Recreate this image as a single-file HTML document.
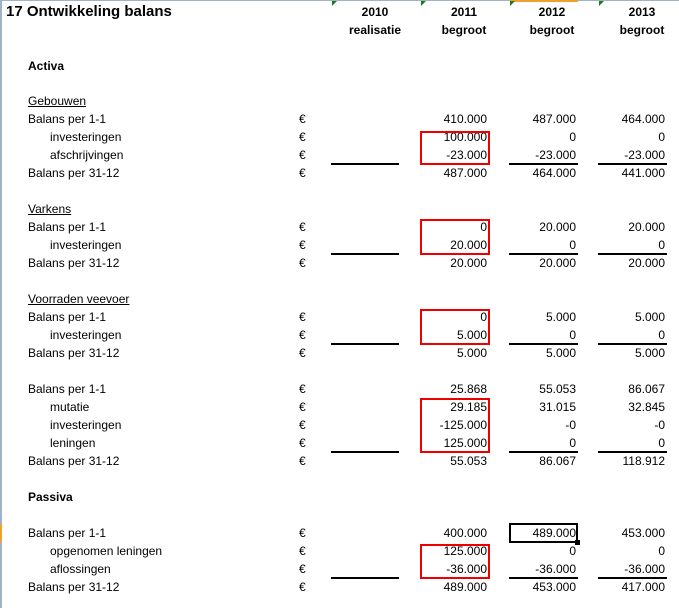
<!DOCTYPE html>
<html><head><style>
body{margin:0;width:679px;height:608px;background:#fff;position:relative;overflow:hidden;font-family:"Liberation Sans",Arial,sans-serif;font-size:12px;color:#000}
div{position:absolute;line-height:14px;white-space:nowrap}
.l{left:28px}.i{left:50px}.e{left:299px}
.c1{right:192px}.c2{right:103px}.c3{right:14px}
.b{font-weight:bold}
.h{font-weight:bold;text-align:center;width:70px}
.u{height:2px;background:#000}
.r{border:2px solid #e00;box-sizing:border-box;left:420px;width:70px}
.g{width:0;height:0;border-top:5px solid #1a7a1a;border-right:5px solid transparent;top:1px}
</style></head><body>
<div style="left:0;top:0;width:2px;height:608px;background:#9fb2c8"></div>
<div style="left:0;top:0;width:679px;height:1px;background:#9fb2c8"></div>
<div style="left:0;top:524px;width:2px;height:18px;background:#f0a030"></div>
<div style="left:510px;top:0;width:68px;height:2px;background:#f0a030"></div>
<div class="g" style="left:332px"></div><div class="g" style="left:421px"></div><div class="g" style="left:510px"></div><div class="g" style="left:599px"></div>

<div class="b" style="left:6px;top:4px;font-size:15px;line-height:16px">17 Ontwikkeling balans</div>
<div class="h" style="left:340px;top:5px">2010</div><div class="h" style="left:429px;top:5px">2011</div><div class="h" style="left:517px;top:5px">2012</div><div class="h" style="left:607px;top:5px">2013</div>
<div class="h" style="left:340px;top:23px">realisatie</div><div class="h" style="left:429px;top:23px">begroot</div><div class="h" style="left:517px;top:23px">begroot</div><div class="h" style="left:607px;top:23px">begroot</div>

<div class="l b" style="top:59px">Activa</div>

<div class="l" style="top:94px;text-decoration:underline">Gebouwen</div>
<div class="l" style="top:112px">Balans per 1-1</div><div class="e" style="top:112px">€</div><div class="c1" style="top:112px">410.000</div><div class="c2" style="top:112px">487.000</div><div class="c3" style="top:112px">464.000</div>
<div class="i" style="top:130px">investeringen</div><div class="e" style="top:130px">€</div><div class="c1" style="top:130px">100.000</div><div class="c2" style="top:130px">0</div><div class="c3" style="top:130px">0</div>
<div class="i" style="top:148px">afschrijvingen</div><div class="e" style="top:148px">€</div><div class="c1" style="top:148px">-23.000</div><div class="c2" style="top:148px">-23.000</div><div class="c3" style="top:148px">-23.000</div>
<div class="l" style="top:166px">Balans per 31-12</div><div class="e" style="top:166px">€</div><div class="c1" style="top:166px">487.000</div><div class="c2" style="top:166px">464.000</div><div class="c3" style="top:166px">441.000</div>
<div class="r" style="top:131px;height:34px"></div>
<div class="u" style="left:331px;width:68px;top:163px"></div><div class="u" style="left:509px;width:69px;top:163px"></div><div class="u" style="left:598px;width:69px;top:163px"></div>

<div class="l" style="top:202px;text-decoration:underline">Varkens</div>
<div class="l" style="top:220px">Balans per 1-1</div><div class="e" style="top:220px">€</div><div class="c1" style="top:220px">0</div><div class="c2" style="top:220px">20.000</div><div class="c3" style="top:220px">20.000</div>
<div class="i" style="top:238px">investeringen</div><div class="e" style="top:238px">€</div><div class="c1" style="top:238px">20.000</div><div class="c2" style="top:238px">0</div><div class="c3" style="top:238px">0</div>
<div class="l" style="top:256px">Balans per 31-12</div><div class="e" style="top:256px">€</div><div class="c1" style="top:256px">20.000</div><div class="c2" style="top:256px">20.000</div><div class="c3" style="top:256px">20.000</div>
<div class="r" style="top:219px;height:36px"></div>
<div class="u" style="left:331px;width:68px;top:253px"></div><div class="u" style="left:509px;width:69px;top:253px"></div><div class="u" style="left:598px;width:69px;top:253px"></div>

<div class="l" style="top:292px;text-decoration:underline">Voorraden veevoer</div>
<div class="l" style="top:310px">Balans per 1-1</div><div class="e" style="top:310px">€</div><div class="c1" style="top:310px">0</div><div class="c2" style="top:310px">5.000</div><div class="c3" style="top:310px">5.000</div>
<div class="i" style="top:328px">investeringen</div><div class="e" style="top:328px">€</div><div class="c1" style="top:328px">5.000</div><div class="c2" style="top:328px">0</div><div class="c3" style="top:328px">0</div>
<div class="l" style="top:346px">Balans per 31-12</div><div class="e" style="top:346px">€</div><div class="c1" style="top:346px">5.000</div><div class="c2" style="top:346px">5.000</div><div class="c3" style="top:346px">5.000</div>
<div class="r" style="top:309px;height:36px"></div>
<div class="u" style="left:331px;width:68px;top:343px"></div><div class="u" style="left:509px;width:69px;top:343px"></div><div class="u" style="left:598px;width:69px;top:343px"></div>

<div class="l" style="top:382px">Balans per 1-1</div><div class="e" style="top:382px">€</div><div class="c1" style="top:382px">25.868</div><div class="c2" style="top:382px">55.053</div><div class="c3" style="top:382px">86.067</div>
<div class="i" style="top:400px">mutatie</div><div class="e" style="top:400px">€</div><div class="c1" style="top:400px">29.185</div><div class="c2" style="top:400px">31.015</div><div class="c3" style="top:400px">32.845</div>
<div class="i" style="top:418px">investeringen</div><div class="e" style="top:418px">€</div><div class="c1" style="top:418px">-125.000</div><div class="c2" style="top:418px">-0</div><div class="c3" style="top:418px">-0</div>
<div class="i" style="top:436px">leningen</div><div class="e" style="top:436px">€</div><div class="c1" style="top:436px">125.000</div><div class="c2" style="top:436px">0</div><div class="c3" style="top:436px">0</div>
<div class="l" style="top:454px">Balans per 31-12</div><div class="e" style="top:454px">€</div><div class="c1" style="top:454px">55.053</div><div class="c2" style="top:454px">86.067</div><div class="c3" style="top:454px">118.912</div>
<div class="r" style="top:398px;height:55px"></div>
<div class="u" style="left:331px;width:68px;top:451px"></div><div class="u" style="left:509px;width:69px;top:451px"></div><div class="u" style="left:598px;width:69px;top:451px"></div>

<div class="l b" style="top:490px">Passiva</div>

<div class="l" style="top:526px">Balans per 1-1</div><div class="e" style="top:526px">€</div><div class="c1" style="top:526px">400.000</div><div class="c2" style="top:526px">489.000</div><div class="c3" style="top:526px">453.000</div>
<div style="left:509px;top:523px;width:69px;height:20px;border:2px solid #000;box-sizing:border-box"></div>
<div style="left:575px;top:540px;width:5px;height:5px;background:#000"></div>
<div class="i" style="top:544px">opgenomen leningen</div><div class="e" style="top:544px">€</div><div class="c1" style="top:544px">125.000</div><div class="c2" style="top:544px">0</div><div class="c3" style="top:544px">0</div>
<div class="i" style="top:562px">aflossingen</div><div class="e" style="top:562px">€</div><div class="c1" style="top:562px">-36.000</div><div class="c2" style="top:562px">-36.000</div><div class="c3" style="top:562px">-36.000</div>
<div class="l" style="top:580px">Balans per 31-12</div><div class="e" style="top:580px">€</div><div class="c1" style="top:580px">489.000</div><div class="c2" style="top:580px">453.000</div><div class="c3" style="top:580px">417.000</div>
<div class="r" style="top:544px;height:35px"></div>
<div class="u" style="left:331px;width:68px;top:577px"></div><div class="u" style="left:509px;width:69px;top:577px"></div><div class="u" style="left:598px;width:69px;top:577px"></div>
</body></html>
